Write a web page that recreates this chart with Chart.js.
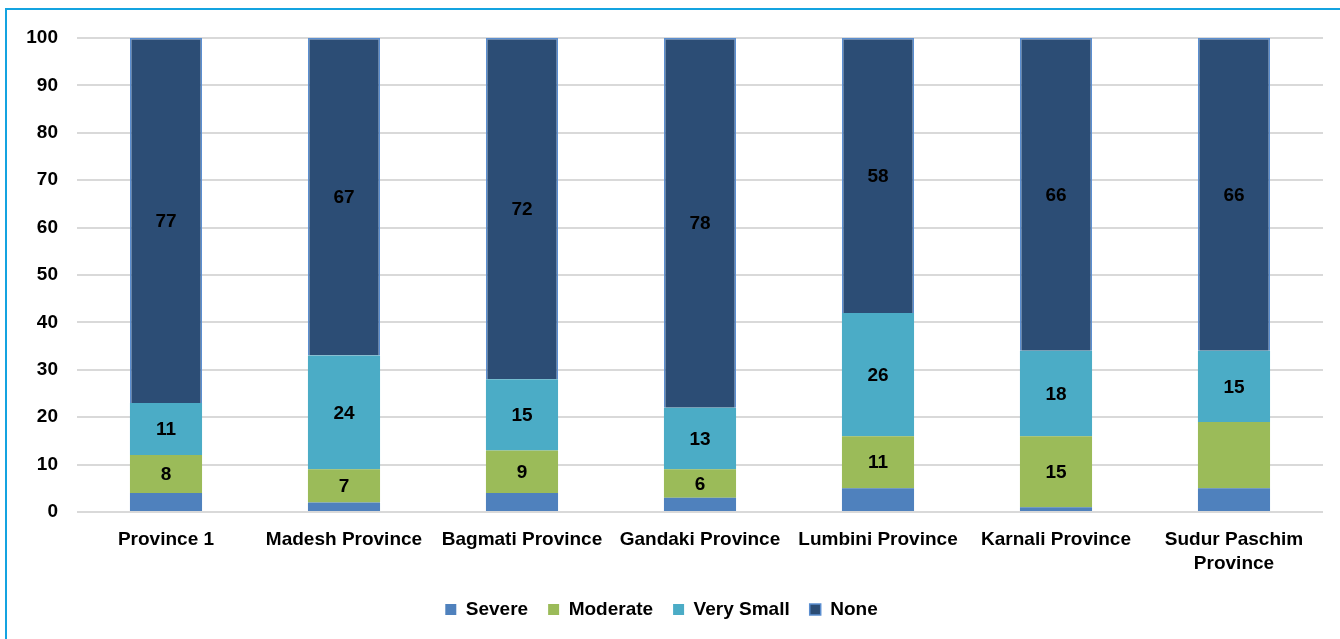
<!DOCTYPE html>
<html>
<head>
<meta charset="utf-8">
<script src="https://cdn.jsdelivr.net/npm/chart.js@4/dist/chart.umd.min.js"></script>
<style>
html,body{margin:0;padding:0;background:#fff;}
#wrap{position:relative;width:1340px;height:639px;}
#frame{position:absolute;left:5px;top:8px;width:1340px;height:640px;border-left:2px solid #14a3e0;border-top:2px solid #14a3e0;pointer-events:none;}
canvas{position:absolute;left:0;top:0;}
</style>
</head>
<body>
<div id="wrap">
<canvas id="c" width="1340" height="639"></canvas>
<div id="frame"></div>
</div>
<script>
const categories = ["Province 1","Madesh Province","Bagmati Province","Gandaki Province","Lumbini Province","Karnali Province",["Sudur Paschim","Province"]];
const severe    = [4, 2, 4, 3, 5, 1, 5];
const moderate  = [8, 7, 9, 6, 11, 15, 14];
const verySmall = [11, 24, 15, 13, 26, 18, 15];
const none      = [77, 67, 72, 78, 58, 66, 66];
// which values are printed on the bars (null = not printed)
const severeLabels    = [null, null, null, null, null, null, null];
const moderateLabels  = ["8", "7", "9", "6", "11", "15", null];
const verySmallLabels = ["11", "24", "15", "13", "26", "18", "15"];
const noneLabels      = ["77", "67", "72", "78", "58", "66", "66"];
const yTicks = [0,10,20,30,40,50,60,70,80,90,100];

const FONT = "'Liberation Sans', Arial, sans-serif";

const barLabels = {
  id: 'barLabels',
  afterDatasetsDraw(chart) {
    const ctx = chart.ctx;
    ctx.save();
    ctx.font = "bold 19px " + FONT;
    ctx.fillStyle = "#000";
    ctx.textAlign = "center";
    ctx.textBaseline = "middle";
    chart.data.datasets.forEach((ds, i) => {
      const meta = chart.getDatasetMeta(i);
      meta.data.forEach((bar, j) => {
        const t = ds.printed[j];
        if (t == null) return;
        const p = bar.getProps(['x','y','base'], true);
        ctx.fillText(t, p.x, (p.y + p.base) / 2 + 1);
      });
    });
    ctx.restore();
  }
};

new Chart(document.getElementById('c'), {
  type: 'bar',
  data: {
    labels: categories,
    datasets: [
      {label: "Severe", data: severe, printed: severeLabels, backgroundColor: "#4f81bd", borderColor: "#4f81bd", borderWidth: 0},
      {label: "Moderate", data: moderate, printed: moderateLabels, backgroundColor: "#9bbb59", borderColor: "#9bbb59", borderWidth: 0},
      {label: "Very Small", data: verySmall, printed: verySmallLabels, backgroundColor: "#4bacc6", borderColor: "#4bacc6", borderWidth: 0},
      {label: "None", data: none, printed: noneLabels, backgroundColor: "#2c4d75", borderColor: "#5b8ed0", borderWidth: 1.5}
    ]
  },
  options: {
    responsive: false,
    animation: false,
    devicePixelRatio: 1,
    layout: {padding: {left: 0, right: 17, top: 38, bottom: 10}},
    datasets: {bar: {categoryPercentage: 1.0, barPercentage: 0.405}},
    scales: {
      x: {
        stacked: true,
        grid: {display: false, drawTicks: false},
        border: {display: false},
        afterFit(s) { s.height = 68; },
        ticks: {color: "#000", font: {family: FONT, size: 19, weight: 'bold', lineHeight: 1.25}, padding: 16, maxRotation: 0, autoSkip: false}
      },
      y: {
        stacked: true,
        min: 0, max: 100,
        afterFit(s) { s.width = 77; },
        afterBuildTicks(s) { s.ticks = yTicks.map(v => ({value: v})); },
        grid: {color: "#d9d9d9", lineWidth: 2, drawTicks: false},
        border: {display: false},
        ticks: {color: "#000", font: {family: FONT, size: 19, weight: 'bold'}, padding: 19}
      }
    },
    plugins: {
      legend: {
        position: 'bottom',
        labels: {color: "#000", font: {family: FONT, size: 19, weight: 'bold'}, boxWidth: 11, boxHeight: 11, padding: 20}
      },
      tooltip: {enabled: false}
    }
  },
  plugins: [barLabels]
});
</script>
</body>
</html>
